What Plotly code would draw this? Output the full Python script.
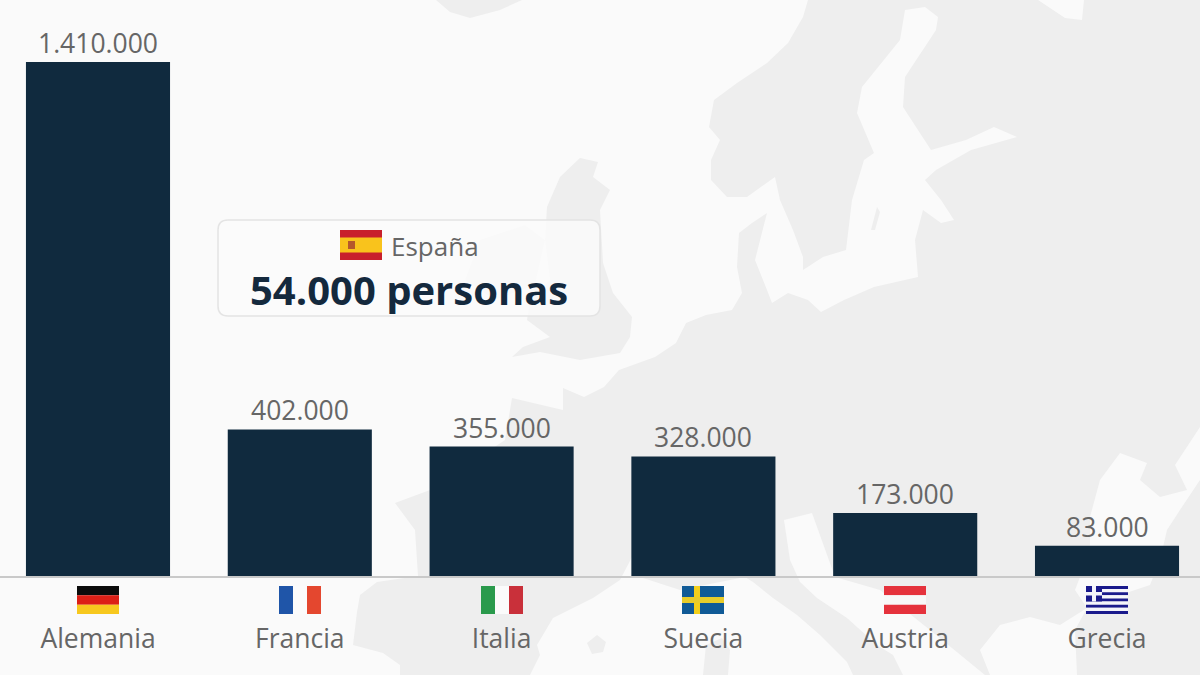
import plotly.graph_objects as go

categories = ["Alemania", "Francia", "Italia", "Suecia", "Austria", "Grecia"]
values = [1410000, 402000, 355000, 328000, 173000, 83000]
value_labels = ["1.410.000", "402.000", "355.000", "328.000", "173.000", "83.000"]
callout_country = "España"
callout_text = "54.000 personas"

W, H, BASE = 1200, 675, 576
LAND, SEA = "#eeeeee", "#fafafa"
INK, GREY = "#102a3e", "#666666"

def X(p): return p / W
def Y(p): return (BASE - p) / BASE

def poly(pts, color, layer="below"):
    d = "M " + " L ".join(f"{X(a):.5f} {Y(b):.5f}" for a, b in pts) + " Z"
    return dict(type="path", xref="paper", yref="paper", path=d, fillcolor=color,
                line=dict(width=0), layer=layer)

def rect(x0, y0, x1, y1, color, layer="above"):
    return dict(type="rect", xref="paper", yref="paper", x0=X(x0), x1=X(x1), y0=Y(y0), y1=Y(y1),
                fillcolor=color, line=dict(width=0), layer=layer)

continent = [(808,0),(803,17),(788,43),(767,63),(737,83),(714,100),(709,127),(720,140),(711,160),(711,180),
    (727,197),(747,197),(775,177),(780,200),(793,230),(803,257),(803,270),(823,257),(846,250),(852,200),
    (864,160),(874,153),(857,113),(862,87),(900,40),(905,10),(925,7),(938,17),(936,30),(905,77),(903,107),
    (931,150),(966,140),(994,127),(1017,137),(971,150),(936,170),(925,180),(941,200),(954,220),(941,223),
    (923,210),(915,240),(918,277),(874,287),(844,300),(821,312),(808,300),(788,293),(772,303),(767,290),
    (755,260),(767,213),(752,223),(739,233),(737,267),(742,293),(732,310),(706,315),(686,323),(676,343),
    (655,357),(619,370),(604,387),(584,397),(563,388),(563,410),(512,398),(505,440),(430,490),(395,503),
    (415,530),(418,576),(377,582),(360,595),(357,612),(353,645),(383,653),(400,665),(400,675),(530,675),
    (540,655),(537,645),(553,618),(593,598),(620,580),(632,557),(640,577),(680,590),(745,577),(753,582),
    (773,598),(797,615),(820,635),(847,662),(853,675),(1200,675),(1200,0)]
britain = [(580,158),(598,162),(593,177),(610,190),(600,210),(603,263),(613,293),(632,317),(630,337),(620,353),
    (580,360),(540,352),(512,357),(523,347),(550,337),(527,320),(530,300),(550,280),(545,240),(547,207),(560,177)]
ireland = [(480,240),(525,225),(545,240),(535,285),(495,300),(465,280)]
iceland = [(436,0),(450,12),(470,18),(500,10),(522,0)]
gotland = [(877,207),(880,212),(875,230),(871,230)]
sardinia = [(706,645),(722,638),(730,650),(728,675),(703,675)]
balearic = [(587,643),(597,635),(606,642),(603,652),(592,654)]
black_sea = [(1090,517),(1100,480),(1120,453),(1147,463),(1140,480),(1160,497),(1187,490),(1175,465),(1200,427),
    (1200,480),(1180,510),(1167,530),(1160,560),(1150,585),(1120,595),(1100,605),(1087,608),(1075,590),(1080,577),(1090,545)]
aegean = [(980,650),(1000,625),(1030,617),(1060,625),(1087,608),(1075,630),(1077,675),(990,675)]
adriatic = [(784,520),(812,513),(835,577),(880,590),(930,630),(985,675),(903,675),(893,655),(877,645),(847,618),
    (817,598),(800,582),(790,560)]
white_sea = [(1038,0),(1084,0),(1082,20),(1065,18)]

shapes = [poly(continent, LAND), poly(britain, LAND), poly(ireland, LAND), poly(iceland, LAND), poly(sardinia, LAND),
          poly(balearic, LAND), poly(black_sea, SEA), poly(aegean, SEA), poly(adriatic, SEA), poly(white_sea, SEA),
          poly(gotland, LAND)]

# callout card
cx0, cy0, cx1, cy1, r = X(218), Y(220), X(600), Y(316), 10
rx, ry = r / W, r / BASE
card = (f"M {cx0+rx} {cy0} L {cx1-rx} {cy0} Q {cx1} {cy0} {cx1} {cy0-ry} L {cx1} {cy1+ry} Q {cx1} {cy1} {cx1-rx} {cy1} "
        f"L {cx0+rx} {cy1} Q {cx0} {cy1} {cx0} {cy1+ry} L {cx0} {cy0-ry} Q {cx0} {cy0} {cx0+rx} {cy0} Z")
shapes.append(dict(type="path", xref="paper", yref="paper", path=card, fillcolor="rgba(251,251,251,0.82)",
                   line=dict(color="#e4e4e4", width=1.5), layer="above"))

# flags
def h_flag(cx, cols):
    t, n = 586, len(cols)
    return [rect(cx-21, t+28*i/n, cx+21, t+28*(i+1)/n, c) for i, c in enumerate(cols)]
def v_flag(cx, cols):
    n = len(cols)
    return [rect(cx-21+42*i/n, 586, cx-21+42*(i+1)/n, 614, c) for i, c in enumerate(cols)]

centers = [98, 300, 502, 703, 905, 1107]
shapes += h_flag(centers[0], ["#0b0b0b", "#dc1f16", "#f7c81e"])
shapes += v_flag(centers[1], ["#1f55a8", "#fbfbfb", "#e4472f"])
shapes += v_flag(centers[2], ["#2a9a4c", "#fbfbfb", "#c9303a"])
c = centers[3]
shapes += [rect(c-21, 586, c+21, 614, "#105a96"), rect(c-9, 586, c-3, 614, "#f3cf1a"), rect(c-21, 597, c+21, 603, "#e8cc2a")]
shapes += h_flag(centers[4], ["#e5323c", "#f8f8f8", "#e5323c"])
c = centers[5]
shapes += h_flag(c, ["#1a1a8c" if i % 2 == 0 else "#f4f4fa" for i in range(9)])
shapes += [rect(c-21, 586, c-5, 601.5, "#1a1a8c"), rect(c-15, 586, c-11, 601.5, "#f4f4fa"), rect(c-21, 592, c-5, 595.5, "#f4f4fa")]
# Spain
shapes += [rect(340, 230, 382, 260, "#c8202c"), rect(340, 237.5, 382, 252.5, "#f9c31c"), rect(348, 241, 355, 249, "#b5582c")]

fig = go.Figure(go.Bar(
    x=categories, y=values, marker=dict(color=INK, line=dict(width=0)), hoverinfo="skip",
))
value_notes = [dict(x=cat, y=val, yanchor="middle", yshift=19, xanchor="center", showarrow=False, text=lab,
                    font=dict(family="Open Sans", size=26.5, color=GREY))
               for cat, val, lab in zip(categories, values, value_labels)]
fig.update_layout(
    width=W, height=H, margin=dict(l=0, r=0, t=0, b=H-BASE, pad=0),
    paper_bgcolor=SEA, plot_bgcolor="rgba(0,0,0,0)", bargap=0.286, showlegend=False, shapes=shapes,
    xaxis=dict(type="category", range=[-0.4856, 5.4608], showgrid=False, showline=True, linecolor="#c9c9c9", linewidth=1.5,
               ticks="", ticklabelstandoff=38, tickfont=dict(family="Open Sans", size=26.5, color=GREY)),
    yaxis=dict(range=[0, 1580247], visible=False),
    annotations=value_notes + [
        dict(xref="paper", yref="paper", x=X(388.5), y=Y(246), xanchor="left", yanchor="middle", showarrow=False,
             text=callout_country, font=dict(family="Open Sans", size=26, color=GREY)),
        dict(xref="paper", yref="paper", x=X(408.5), y=Y(289.5), xanchor="center", yanchor="middle", showarrow=False,
             text=f"<b>{callout_text}</b>", font=dict(family="Open Sans", size=40, color="#14293d")),
    ],
)
fig.write_html("out.html", config={"displayModeBar": False},
               post_script="document.body.style.margin='0';document.documentElement.style.overflow='hidden';")
